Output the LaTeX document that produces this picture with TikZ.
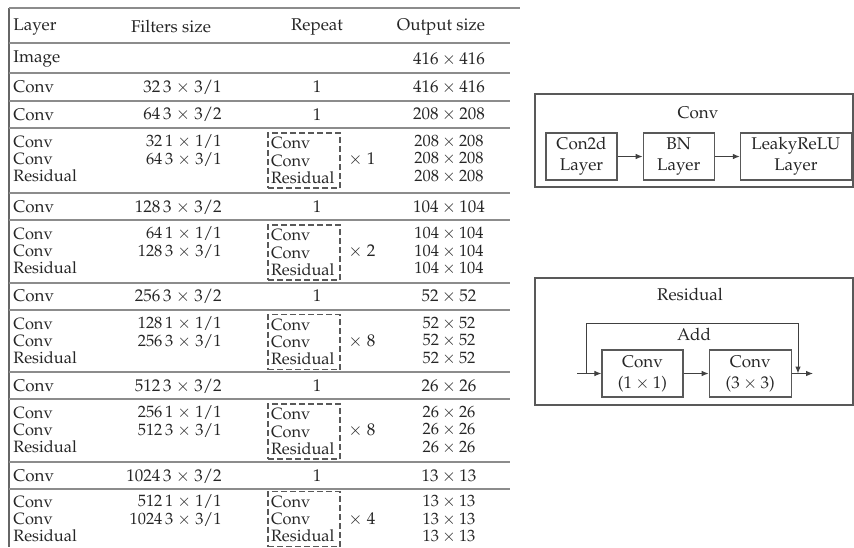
\documentclass[tikz,border=0pt]{standalone}
\usepackage[T1]{fontenc}
\usepackage{mathpazo}
\usetikzlibrary{positioning,arrows.meta}
\begin{document}
\begin{tikzpicture}[x=0.5pt, y=-0.5pt, node distance=12.5pt,
    font=\fontsize{8.5}{10}\selectfont, text=black!85,
    lcol/.style={inner sep=0pt, anchor=west, align=left},
    fcol/.style={inner sep=0pt, anchor=east, align=right},
    ccol/.style={inner sep=0pt, align=center},
    stack/.style={font=\fontsize{8.2}{8.6}\selectfont},
    rule/.style={black!45, line width=0.9pt},
    repbox/.style={stack, draw=black!65, dash pattern=on 3pt off 1.5pt, line width=0.6pt,
        inner xsep=1.5pt, inner ysep=0.5pt, text width=33pt, minimum height=27.5pt, align=left},
    layerbox/.style={draw=black!65, line width=0.6pt, minimum height=23.5pt, inner sep=1pt,
        align=center, font=\fontsize{8.5}{10.5}\selectfont},
    frame/.style={draw=black!65, line width=0.7pt},
    flow/.style={-{Latex[length=3.5pt,width=2.8pt]}, black!75, line width=0.5pt}]

\useasboundingbox (0,0) rectangle (854,547);

\draw[black!60, line width=1.2pt] (9,8) -- (9,547);
\draw[rule] (9,8) -- (520,8);
\draw[rule] (9,43) -- (510,43);
\draw[rule] (9,73) -- (510,73);
\draw[rule] (9,101) -- (510,101);
\draw[rule] (9,128) -- (510,128);
\draw[rule] (9,193) -- (510,193);
\draw[rule] (9,220) -- (510,220);
\draw[rule] (9,283) -- (510,283);
\draw[rule] (9,310) -- (510,310);
\draw[rule] (9,372) -- (510,372);
\draw[rule] (9,399) -- (510,399);
\draw[rule] (9,462) -- (510,462);
\draw[rule] (9,489) -- (510,489);

\node[lcol] (hl) at (13,27) {Layer};
\node[ccol] (hf) at (171,27) {Filters size};
\node[ccol] (hr) at (317,27) {Repeat};
\node[ccol] (ho) at (441,27) {Output size};

\node[lcol] (il) at (13,59) {Image};
\node[ccol] (io) at (449,59) {$416\times416$};

\node[lcol] (c1l) at (13,87) {Conv};
\node[fcol] (c1f) at (222,87) {32\,3 $\times$ 3/1};
\node[ccol] (c1r) at (317,87) {1};
\node[ccol] (c1o) at (449,87) {$416\times416$};

\node[lcol] (c2l) at (13,114.5) {Conv};
\node[fcol] (c2f) at (222,114.5) {64\,3 $\times$ 3/2};
\node[ccol] (c2r) at (317,114.5) {1};
\node[ccol] (c2o) at (449,114.5) {$208\times208$};

\node[lcol, stack] (b1l) at (13,159) {Conv\\Conv\\Residual};
\node[fcol, stack] (b1f) at (222,150.5) {32\,1 $\times$ 1/1\\64\,3 $\times$ 3/1};
\node[repbox] (b1r) at (304,160.5) {Conv\\Conv\\Residual};
\node[lcol] (b1x) at (348,159) {$\times$ 1};
\node[ccol, stack] (b1o) at (449,159) {$208\times208$\\$208\times208$\\$208\times208$};

\node[lcol] (c3l) at (13,207) {Conv};
\node[fcol] (c3f) at (222,207) {128\,3 $\times$ 3/2};
\node[ccol] (c3r) at (317,207) {1};
\node[ccol] (c3o) at (449,207) {$104\times104$};

\node[lcol, stack] (b2l) at (13,251) {Conv\\Conv\\Residual};
\node[fcol, stack] (b2f) at (222,242.5) {64\,1 $\times$ 1/1\\128\,3 $\times$ 3/1};
\node[repbox] (b2r) at (304,252.5) {Conv\\Conv\\Residual};
\node[lcol] (b2x) at (348,251) {$\times$ 2};
\node[ccol, stack] (b2o) at (449,251) {$104\times104$\\$104\times104$\\$104\times104$};

\node[lcol] (c4l) at (13,296) {Conv};
\node[fcol] (c4f) at (222,296) {256\,3 $\times$ 3/2};
\node[ccol] (c4r) at (317,296) {1};
\node[ccol] (c4o) at (449,296) {$52\times52$};

\node[lcol, stack] (b3l) at (13,341) {Conv\\Conv\\Residual};
\node[fcol, stack] (b3f) at (222,332.5) {128\,1 $\times$ 1/1\\256\,3 $\times$ 3/1};
\node[repbox] (b3r) at (304,342) {Conv\\Conv\\Residual};
\node[lcol] (b3x) at (348,341) {$\times$ 8};
\node[ccol, stack] (b3o) at (449,341) {$52\times52$\\$52\times52$\\$52\times52$};

\node[lcol] (c5l) at (13,386) {Conv};
\node[fcol] (c5f) at (222,386) {512\,3 $\times$ 3/2};
\node[ccol] (c5r) at (317,386) {1};
\node[ccol] (c5o) at (449,386) {$26\times26$};

\node[lcol, stack] (b4l) at (13,430) {Conv\\Conv\\Residual};
\node[fcol, stack] (b4f) at (222,421.5) {256\,1 $\times$ 1/1\\512\,3 $\times$ 3/1};
\node[repbox] (b4r) at (304,431.5) {Conv\\Conv\\Residual};
\node[lcol] (b4x) at (348,430) {$\times$ 8};
\node[ccol, stack] (b4o) at (449,430) {$26\times26$\\$26\times26$\\$26\times26$};

\node[lcol] (c6l) at (13,476) {Conv};
\node[fcol] (c6f) at (222,476) {1024\,3 $\times$ 3/2};
\node[ccol] (c6r) at (317,476) {1};
\node[ccol] (c6o) at (449,476) {$13\times13$};

\node[lcol, stack] (b5l) at (13,519) {Conv\\Conv\\Residual};
\node[fcol, stack] (b5f) at (222,510.5) {512\,1 $\times$ 1/1\\1024\,3 $\times$ 3/1};
\node[repbox] (b5r) at (304,519) {Conv\\Conv\\Residual};
\node[lcol] (b5x) at (348,519) {$\times$ 4};
\node[ccol, stack] (b5o) at (449,519) {$13\times13$\\$13\times13$\\$13\times13$};

\draw[frame] (535,94) rectangle (853,187);
\node (convt) at (698,113) {Conv};
\node[layerbox, minimum width=35.5pt] (con2d) at (581.5,156.5) {Con2d\\Layer};
\node[layerbox, minimum width=35.5pt, right=of con2d] (bn) {BN\\Layer};
\node[layerbox, minimum width=55.5pt, right=of bn] (leaky) {LeakyReLU\\Layer};
\draw[flow] (con2d) -- (bn);
\draw[flow] (bn) -- (leaky);

\draw[frame] (535,278) rectangle (853,405);
\node (rest) at (690,295) {Residual};
\node[layerbox, minimum width=40.5pt] (conv1) at (642.5,373.5) {Conv\\($1\times1$)};
\node[layerbox, minimum width=41pt, right=of conv1] (conv3) {Conv\\($3\times3$)};
\coordinate (in) at (577,373.5);
\coordinate (split) at (586,373.5);
\coordinate (addl) at (586,323);
\coordinate (addr) at (798,323);
\coordinate (join) at (798,373.5);
\coordinate (out) at (813,373.5);
\node (add) at (694,334) {Add};
\draw[flow] (in) -- (conv1);
\draw[flow] (conv1) -- (conv3);
\draw[flow] (conv3) -- (out);
\draw[flow] (split) -- (addl) -- (addr) -- (join);
\end{tikzpicture}
\end{document}
